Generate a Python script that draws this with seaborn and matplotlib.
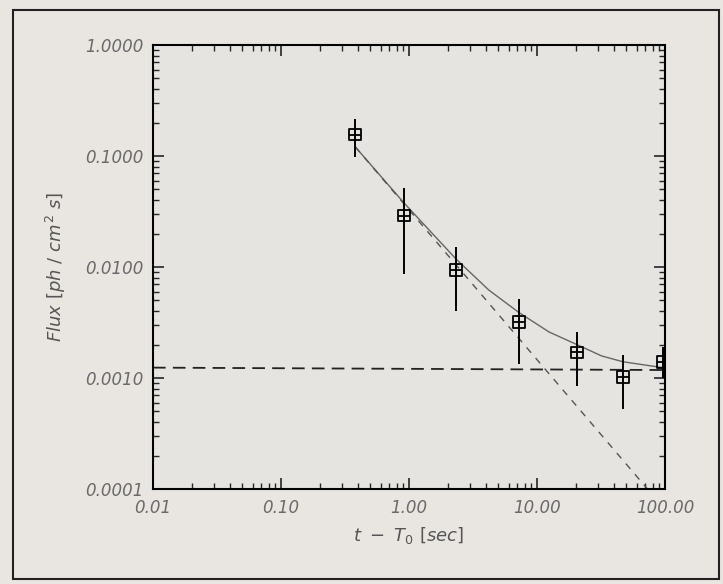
import matplotlib

matplotlib.use("Agg")

import matplotlib.pyplot as plt
import pandas as pd
import seaborn as sns
from matplotlib.patches import Rectangle
from matplotlib.ticker import FixedLocator, LogLocator, NullFormatter

# observed fluxes with error bars
T_OBS = [0.38, 0.91, 2.33, 7.2, 20.5, 47.0, 96.0]
FLUX_OBS = [0.156, 0.029, 0.0094, 0.0032, 0.0017, 0.00102, 0.0014]
FLUX_HI = [0.216, 0.052, 0.015, 0.0052, 0.0026, 0.00162, 0.0019]
FLUX_LO = [0.097, 0.0086, 0.0040, 0.00133, 0.00085, 0.00053, 0.00101]

# fitted model (solid)
T_FIT = [0.38, 0.91, 2.33, 4.2, 7.2, 12.4, 20.5, 32.0, 47.0, 96.0]
FLUX_FIT = [0.121, 0.038, 0.0118, 0.0062, 0.0039, 0.0026, 0.0020, 0.00158, 0.00140, 0.00124]

# components (dashed)
T_POW = [0.38, 73.0]
FLUX_POW = [0.121, 0.0001]
T_CONST = [0.01, 96.0]
FLUX_CONST = [0.00124, 0.00118]

Y_TICKS = [1.0, 0.1, 0.01, 0.001, 0.0001]
Y_LABELS = ["1.0000", "0.1000", "0.0100", "0.0010", "0.0001"]
X_TICKS = [0.01, 0.1, 1.0, 10.0, 100.0]
X_LABELS = ["0.01", "0.10", "1.00", "10.00", "100.00"]

BG = "#e9e6e1"
TXT = "#6a6a6a"


def main() -> None:
    sns.set_theme(style="ticks", rc={"figure.facecolor": BG, "axes.facecolor": "#e5e4e1"})

    fig = plt.figure(figsize=(7.23, 5.84), dpi=100)
    ax = fig.add_axes([153 / 723, 1 - 489 / 584, 512 / 723, 444 / 584])

    obs = pd.DataFrame({"t": T_OBS, "flux": FLUX_OBS})
    lo = [f - l for f, l in zip(FLUX_OBS, FLUX_LO)]
    hi = [h - f for f, h in zip(FLUX_OBS, FLUX_HI)]

    sns.lineplot(x=T_FIT, y=FLUX_FIT, color="#666666", lw=1.0, ax=ax)
    sns.lineplot(x=T_POW, y=FLUX_POW, color="#555555", lw=1.0, ax=ax,
                 dashes=False, linestyle=(0, (5, 5)))
    sns.lineplot(x=T_CONST, y=FLUX_CONST, color="#222222", lw=1.3, ax=ax,
                 linestyle=(0, (7, 4)))

    ax.errorbar(T_OBS, FLUX_OBS, yerr=[lo, hi], fmt="none", ecolor="black",
                elinewidth=1.4, capsize=0, zorder=4)
    sns.scatterplot(data=obs, x="t", y="flux", marker="s", s=70,
                    facecolor="none", edgecolor="black", linewidth=1.3, zorder=5, ax=ax)
    ax.scatter(T_OBS, FLUX_OBS, marker="_", s=70, color="black", linewidth=1.3, zorder=5)

    ax.set_xscale("log")
    ax.set_yscale("log")
    ax.set_xlim(0.01, 100)
    ax.set_ylim(0.0001, 1.0)

    ax.xaxis.set_major_locator(FixedLocator(X_TICKS))
    ax.set_xticklabels(X_LABELS)
    ax.yaxis.set_major_locator(FixedLocator(Y_TICKS))
    ax.set_yticklabels(Y_LABELS)
    ax.xaxis.set_minor_locator(LogLocator(base=10, subs=range(2, 10), numticks=20))
    ax.yaxis.set_minor_locator(LogLocator(base=10, subs=range(2, 10), numticks=20))
    ax.xaxis.set_minor_formatter(NullFormatter())
    ax.yaxis.set_minor_formatter(NullFormatter())

    ax.tick_params(which="major", direction="in", length=8, width=1.2,
                   top=True, right=True, labelsize=12, labelcolor=TXT, pad=7)
    ax.tick_params(which="minor", direction="in", length=4, width=1.0,
                   top=True, right=True)
    for lab in ax.get_xticklabels() + ax.get_yticklabels():
        lab.set_fontstyle("italic")
    for sp in ax.spines.values():
        sp.set_visible(True)
        sp.set_linewidth(1.5)
        sp.set_color("black")

    ax.set_xlabel(r"$t\ -\ T_0\ [sec]$", fontsize=13, color="#555555", labelpad=6)
    ax.set_ylabel(r"$Flux\ [ph\ /\ cm^2\ s]$", fontsize=13, color="#555555", labelpad=12)

    fig.patches.append(Rectangle((13 / 723, 1 - 579 / 584), 706 / 723, 569 / 584,
                                 transform=fig.transFigure, fill=False,
                                 edgecolor="#222222", linewidth=1.5))

    fig.savefig("out.png", dpi=100, facecolor=fig.get_facecolor())
    plt.close(fig)


if __name__ == "__main__":
    main()
